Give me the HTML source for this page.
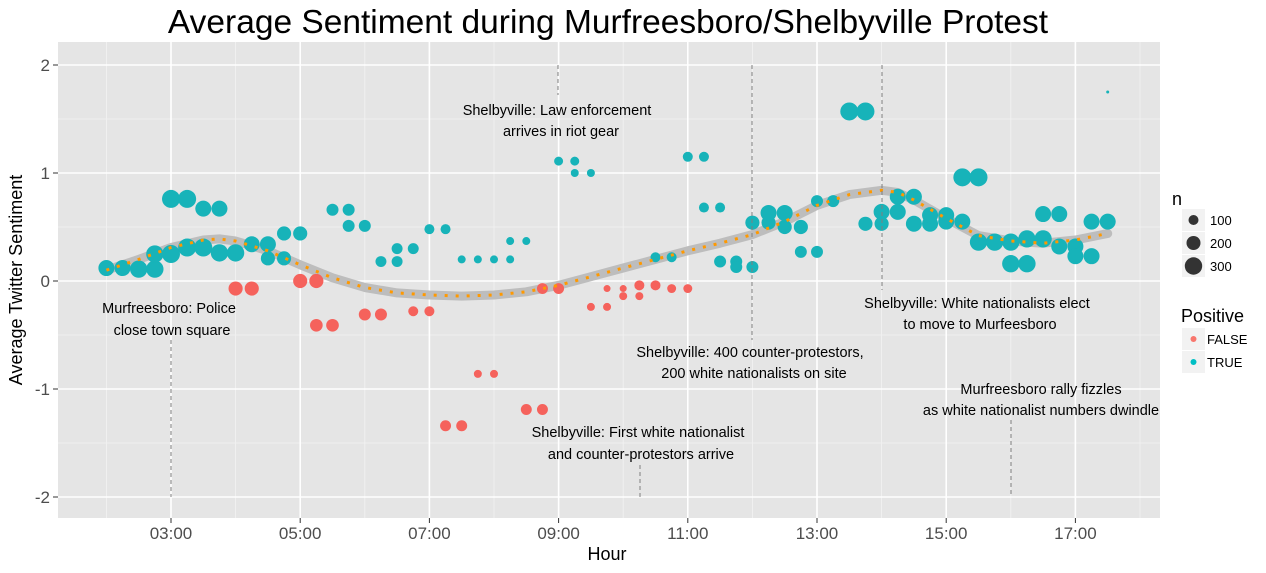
<!DOCTYPE html>
<html><head><meta charset="utf-8"><style>
body{margin:0;background:#fff;font-family:"Liberation Sans",sans-serif}
svg text{font-family:"Liberation Sans",sans-serif}
</style></head><body>
<svg id="chart" width="1266" height="568" xmlns="http://www.w3.org/2000/svg">
<text x="608" y="33" font-size="33.5" text-anchor="middle" fill="#000">Average Sentiment during Murfreesboro/Shelbyville Protest</text>
<rect x="58" y="42" width="1102" height="476" fill="#e5e5e5"/>
<g id="grid"></g><g id="smooth"></g><g id="pts"></g><g id="ann"></g><g id="axes"></g>
<text x="607" y="560" font-size="18" text-anchor="middle">Hour</text>
<text transform="translate(22,280) rotate(-90)" font-size="18" text-anchor="middle">Average Twitter Sentiment</text>
<g>
<text x="1172" y="205" font-size="18">n</text>
<rect x="1182" y="209" width="23" height="22" fill="#f2f2f2"/><circle cx="1193.5" cy="220" r="5" fill="#333"/><text x="1210" y="225" font-size="13">100</text>
<rect x="1182" y="232" width="23" height="22" fill="#f2f2f2"/><circle cx="1193.5" cy="243" r="7" fill="#333"/><text x="1210" y="248" font-size="13">200</text>
<rect x="1182" y="255" width="23" height="22" fill="#f2f2f2"/><circle cx="1193.5" cy="266" r="8.7" fill="#333"/><text x="1210" y="271" font-size="13">300</text>
</g>
<g>
<text x="1181" y="322" font-size="18">Positive</text>
<rect x="1182" y="328" width="23" height="22" fill="#f2f2f2"/><circle cx="1193.5" cy="339" r="3" fill="#f8766d"/><text x="1207" y="344" font-size="13">FALSE</text>
<rect x="1182" y="351" width="23" height="22" fill="#f2f2f2"/><circle cx="1193.5" cy="362" r="3" fill="#00bfc4"/><text x="1207" y="367" font-size="13">TRUE</text>
</g>
</svg>
<script>
const pointHours=[2,2.25,2.5,2.75,2.75,3,3,3.25,3.25,3.5,3.5,3.75,3.75,4,4,4.25,4.25,4.5,4.5,4.75,4.75,5,5,5.25,5.25,5.5,5.5,5.75,5.75,6,6,6.25,6.25,6.5,6.5,6.75,6.75,7,7,7.25,7.25,7.5,7.5,7.75,7.75,8,8,8.25,8.25,8.5,8.5,8.75,8.75,9,9,9.25,9.25,9.5,9.5,9.75,9.75,10,10,10.25,10.25,10.5,10.5,10.75,10.75,11,11,11.25,11.25,11.5,11.5,11.75,11.75,12,12,12.25,12.25,12.5,12.5,12.75,12.75,13,13,13.25,13.5,13.75,13.75,14,14,14.25,14.25,14.5,14.5,14.75,14.75,15,15,15.25,15.25,15.5,15.5,15.75,16,16,16.25,16.25,16.5,16.5,16.75,16.75,17,17,17.25,17.25,17.5,17.5];
const pointValues=[0.12,0.12,0.11,0.11,0.25,0.25,0.76,0.76,0.31,0.67,0.31,0.67,0.26,0.26,-0.07,-0.07,0.34,0.34,0.21,0.44,0.21,0.44,0.0,0.0,-0.41,-0.41,0.66,0.66,0.51,0.51,-0.31,-0.31,0.18,0.18,0.30,0.30,-0.28,-0.28,0.48,0.48,-1.34,-1.34,0.2,0.2,-0.86,-0.86,0.2,0.2,0.37,0.37,-1.19,-1.19,-0.07,-0.07,1.11,1.11,1.0,1.0,-0.24,-0.24,-0.07,-0.07,-0.14,-0.14,-0.04,-0.04,0.22,0.22,-0.07,-0.07,1.15,1.15,0.68,0.68,0.18,0.18,0.13,0.13,0.54,0.54,0.63,0.63,0.5,0.5,0.27,0.27,0.74,0.74,1.57,1.57,0.53,0.53,0.64,0.78,0.64,0.78,0.53,0.53,0.61,0.61,0.55,0.55,0.96,0.96,0.36,0.36,0.36,0.16,0.16,0.39,0.39,0.62,0.62,0.32,0.32,0.23,0.23,0.55,0.55,1.75];
const pointN=[256,256,300, 300,300, 324,324, 324,324, 256,324, 256,300, 300,200, 200,256, 256,200, 200,200, 200,200, 200,160, 160,144, 144,144, 144,144, 144,120, 120,120, 120,100, 100,100, 100,120, 120,64, 64,64, 64,64, 64,64, 64,120, 120,120, 120,80, 80,64, 64,64, 64,49, 49,64, 64,100, 100,100, 100,80, 80,100, 100,100, 100,144, 144,144, 144,200, 200,256, 256,200, 200,144, 144,144, 144, 324, 324,200, 200,256, 256,256, 256,256, 256,256, 256,256, 256,324, 324,300, 300, 300,300, 300,300, 300,256, 256,256, 256,256, 256,256, 256,9];
const smoothHours=[2,2.5,3,3.5,3.75,4,4.5,5,5.5,6,6.5,7,7.5,8,8.5,9,9.5,10,10.5,11,11.5,12,12.5,13,13.5,14,14.25,14.5,15,15.5,16,16.5,17,17.5];
const smoothValues=[0.1,0.2,0.31,0.38,0.39,0.37,0.28,0.15,0.03,-0.06,-0.11,-0.13,-0.14,-0.13,-0.1,-0.04,0.04,0.12,0.2,0.28,0.35,0.43,0.55,0.7,0.8,0.84,0.82,0.75,0.58,0.42,0.37,0.35,0.38,0.44];
const yTicks=[-2,-1,0,1,2];
const xTicks=[3,5,7,9,11,13,15,17];
const xTickLabels=["03:00","05:00","07:00","09:00","11:00","13:00","15:00","17:00"];
const X=h=>171+(h-3)*64.6, Y=v=>281-v*108;
const NS="http://www.w3.org/2000/svg";
function mk(t,a,p){const e=document.createElementNS(NS,t);for(const k in a)e.setAttribute(k,a[k]);p.appendChild(e);return e;}
const g=document.getElementById('grid');
[-1.5,-0.5,0.5,1.5].forEach(v=>{const l=mk('line',{x1:58,x2:1160,y1:Y(v),y2:Y(v),stroke:'#f2f2f2','stroke-width':0.8},g);});
[2,4,6,8,10,12,14,16,18].forEach(h=>{if(X(h)<1160){const l=mk('line',{x1:X(h),x2:X(h),y1:42,y2:518,stroke:'#f2f2f2','stroke-width':0.8},g);}});
const ax=document.getElementById('axes');
yTicks.forEach(v=>{const l=mk('line',{x1:58,x2:1160,y1:Y(v),y2:Y(v),stroke:'#fff','stroke-width':1.6},g);
mk('line',{x1:53,x2:58,y1:Y(v),y2:Y(v),stroke:'#333'},ax);
const t=mk('text',{x:50,y:Y(v)+6,'font-size':17,'text-anchor':'end',fill:'#4d4d4d'},ax);t.textContent=v;});
xTicks.forEach((h,i)=>{const l=mk('line',{x1:X(h),x2:X(h),y1:42,y2:518,stroke:'#fff','stroke-width':1.6},g);
mk('line',{x1:X(h),x2:X(h),y1:518,y2:523,stroke:'#333'},ax);
const t=mk('text',{x:X(h),y:539,'font-size':17,'text-anchor':'middle',fill:'#4d4d4d'},ax);t.textContent=xTickLabels[i];});
const pg=document.getElementById('pts');
pointHours.forEach((h,i)=>{const v=pointValues[i];const c=mk('circle',{cx:X(h),cy:Y(v),r:0.5*Math.sqrt(pointN[i]),fill:v>0?'#17b3b9':'#f5625c'},pg);

});
const sg=document.getElementById('smooth');
const d=smoothHours.map((h,i)=>(i?'L':'M')+X(h).toFixed(1)+','+Y(smoothValues[i]).toFixed(1)).join(' ');
const band=mk('path',{d:d,fill:'none',stroke:'#bdbdbd','stroke-width':9,'stroke-linecap':'round','stroke-linejoin':'round'},sg);


const ln=mk('path',{d:d,fill:'none',stroke:'#ff9900','stroke-width':3,'stroke-dasharray':'3 8'},pg);


const ag=document.getElementById('ann');
const vlines=[[171,340,497],[558,65,95],[752,65,340],[882,65,290],[640,465,497],[1011,420,497]];
vlines.forEach(a=>{const l=mk('line',{x1:a[0],x2:a[0],y1:a[1],y2:a[2],stroke:'#7f7f7f','stroke-dasharray':'4 3'},ag);});
const labels=[[169,313,"Murfreesboro: Police"],[172,335,"close town square"],[557,115,"Shelbyville: Law enforcement"],[561,136,"arrives in riot gear"],[750,357,"Shelbyville: 400 counter-protestors,"],[754,378,"200 white nationalists on site"],[977,308,"Shelbyville: White nationalists elect"],[980,329,"to move to Murfeesboro"],[1041,394,"Murfreesboro rally fizzles"],[1041,415,"as white nationalist numbers dwindle"],[638,437,"Shelbyville: First white nationalist"],[641,459,"and counter-protestors arrive"]];
labels.forEach(a=>{const t=mk('text',{x:a[0],y:a[1],'font-size':14.5,'text-anchor':'middle',fill:'#000'},ag);t.textContent=a[2];});
mk('rect',{x:1160,y:380,width:20,height:40,fill:'#fff'},ag);
</script>
</body></html>
